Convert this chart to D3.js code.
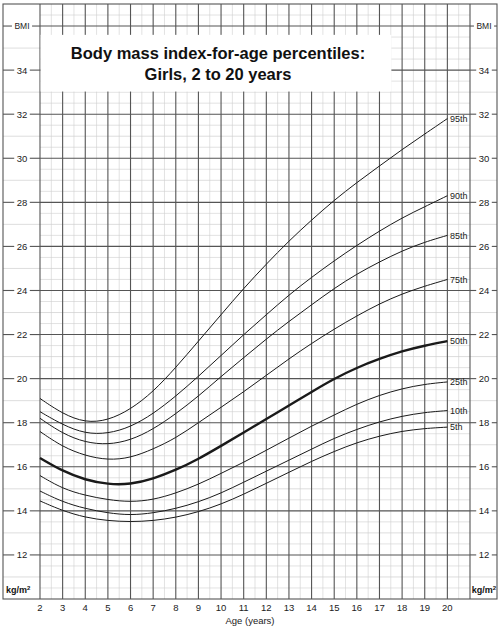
<!DOCTYPE html>
<html>
<head>
<meta charset="utf-8">
<script src="https://cdn.jsdelivr.net/npm/d3@7"></script>
<style>
  body { margin: 0; background: #fff; }
  svg { display: block; font-family: "Liberation Sans", Arial, Helvetica, sans-serif; }
</style>
</head>
<body>
<svg id="chart" width="500" height="628"></svg>
<script>
// ages in years, BMI values
var ages = [2,3,4,5,6,7,8,9,10,11,12,13,14,15,16,17,18,19,20];
var p95 = [19.1,18.4,18.0,18.1,18.6,19.4,20.5,21.7,22.9,24.1,25.2,26.25,27.2,28.1,28.9,29.65,30.4,31.1,31.8];
var p90 = [18.5,17.9,17.5,17.5,17.8,18.4,19.2,20.1,21.05,22.0,22.9,23.8,24.6,25.35,26.05,26.7,27.3,27.8,28.3];
var p85 = [18.2,17.5,17.1,17.0,17.2,17.7,18.4,19.2,20.1,20.95,21.8,22.6,23.35,24.1,24.75,25.3,25.8,26.2,26.5];
var p75 = [17.6,16.9,16.5,16.3,16.4,16.8,17.3,18.0,18.7,19.4,20.15,20.9,21.6,22.25,22.85,23.4,23.85,24.2,24.5];
var p50 = [16.4,15.8,15.4,15.2,15.2,15.45,15.85,16.35,16.95,17.55,18.17,18.78,19.4,20.0,20.5,20.9,21.25,21.5,21.7];
var p25 = [15.6,15.0,14.7,14.5,14.4,14.5,14.8,15.2,15.7,16.2,16.75,17.3,17.85,18.35,18.85,19.25,19.55,19.75,19.85];
var p10 = [14.9,14.4,14.1,13.9,13.8,13.9,14.1,14.4,14.8,15.3,15.8,16.3,16.8,17.3,17.7,18.05,18.3,18.47,18.55];
var p5  = [14.45,14.0,13.7,13.55,13.5,13.55,13.7,13.95,14.3,14.75,15.25,15.75,16.25,16.7,17.1,17.4,17.62,17.74,17.8];

var seriesNames = ["95th","90th","85th","75th","50th","25th","10th","5th"];
var seriesVals = [p95,p90,p85,p75,p50,p25,p10,p5];

var xTicks = d3.range(2, 21);          // 2 .. 20
var yTicks = d3.range(12, 36, 2);      // 12 .. 34
var titleLines = ["Body mass index-for-age percentiles:", "Girls, 2 to 20 years"];

var svg = d3.select('#chart');
var x = d3.scaleLinear().domain([2, 21]).range([40, 470]);
var y = d3.scaleLinear().domain([10, 37]).range([599, 4]);
var L = 3, R = 497;

var minor = "#cfcfcf", major = "#555";

// light half-unit grid inside plot
svg.append('g').selectAll('line')
  .data(d3.range(10.5, 37, 0.5).filter(function(v){ return v % 1 !== 0; }))
  .enter().append('line')
  .attr('x1', x(2)).attr('x2', x(21))
  .attr('y1', y).attr('y2', y)
  .style('stroke', minor).style('stroke-width', 0.6);

// odd unit lines, across margins too
svg.append('g').selectAll('line')
  .data(d3.range(11, 37, 2))
  .enter().append('line')
  .attr('x1', L).attr('x2', R)
  .attr('y1', y).attr('y2', y)
  .style('stroke', minor).style('stroke-width', 0.7);

// half-year verticals
svg.append('g').selectAll('line')
  .data(d3.range(2.5, 21, 1))
  .enter().append('line')
  .attr('x1', x).attr('x2', x)
  .attr('y1', y(37)).attr('y2', y(10))
  .style('stroke', minor).style('stroke-width', 0.6);

// major horizontals (even BMI) in plot
svg.append('g').selectAll('line')
  .data(yTicks.concat([36]))
  .enter().append('line')
  .attr('x1', x(2)).attr('x2', x(21))
  .attr('y1', y).attr('y2', y)
  .style('stroke', major).style('stroke-width', 1.1);

// major verticals
svg.append('g').selectAll('line')
  .data(d3.range(2, 22))
  .enter().append('line')
  .attr('x1', x).attr('x2', x)
  .attr('y1', y(37)).attr('y2', y(10))
  .style('stroke', major).style('stroke-width', 1.1);

// outer frame
svg.append('rect')
  .attr('x', L).attr('y', y(37))
  .attr('width', R - L).attr('height', y(10) - y(37))
  .style('fill', 'none').style('stroke', major).style('stroke-width', 1.1);

// title box
svg.append('rect')
  .attr('x', x(2) + 0.6).attr('y', y(35.6))
  .attr('width', x(17.5) - x(2)).attr('height', y(33) - y(35.6) - 0.6)
  .style('fill', '#fff');

svg.append('g').selectAll('text')
  .data(titleLines)
  .enter().append('text')
  .attr('x', 218)
  .attr('y', function(d, i){ return 59 + i * 21; })
  .attr('text-anchor', 'middle')
  .style('font-size', '16.5px').style('font-weight', 'bold').style('fill', '#111')
  .text(function(d){ return d; });

// side labels with tick dashes
function sideLabel(txt, v, cx, x1, x2, size) {
  var t = svg.append('text')
    .attr('x', cx).attr('y', y(v) + size * 0.36)
    .attr('text-anchor', 'middle')
    .style('font-size', size + 'px').style('fill', '#222')
    .text(txt);
  var w = t.node().getComputedTextLength();
  svg.append('line').attr('x1', x1).attr('x2', cx - w / 2 - 2.5)
    .attr('y1', y(v)).attr('y2', y(v))
    .style('stroke', major).style('stroke-width', 1.1);
  svg.append('line').attr('x1', cx + w / 2 + 2.5).attr('x2', x2)
    .attr('y1', y(v)).attr('y2', y(v))
    .style('stroke', major).style('stroke-width', 1.1);
}
yTicks.forEach(function(v){
  sideLabel(v, v, 22, L, x(2), 9.5);
  sideLabel(v, v, 484, x(21), R, 9.5);
});
sideLabel("BMI", 36, 22, L, x(2), 8.5);
sideLabel("BMI", 36, 484, x(21), R, 8.5);

// kg/m² units
svg.append('text').attr('x', 6).attr('y', 593)
  .style('font-size', '9px').style('font-weight', 'bold').style('fill', '#111')
  .html('kg/m<tspan dy="-3" style="font-size:6px">2</tspan>');
svg.append('text').attr('x', 496).attr('y', 593).attr('text-anchor', 'end')
  .style('font-size', '9px').style('font-weight', 'bold').style('fill', '#111')
  .html('kg/m<tspan dy="-3" style="font-size:6px">2</tspan>');

// x tick labels
svg.append('g').selectAll('text')
  .data(xTicks)
  .enter().append('text')
  .attr('x', x).attr('y', 611)
  .attr('text-anchor', 'middle')
  .style('font-size', '9.5px').style('fill', '#222')
  .text(function(d){ return d; });

svg.append('text').attr('x', 250).attr('y', 624)
  .attr('text-anchor', 'middle')
  .style('font-size', '9.5px').style('fill', '#222')
  .text('Age (years)');

// percentile curves
var line = d3.line()
  .x(function(d){ return x(d[0]); })
  .y(function(d){ return y(d[1]); })
  .curve(d3.curveBasis);

svg.append('g').selectAll('path')
  .data(seriesVals)
  .enter().append('path')
  .attr('d', function(vals){ return line(ages.map(function(a, i){ return [a, vals[i]]; })); })
  .style('fill', 'none').style('stroke', '#1a1a1a')
  .style('stroke-width', function(d, i){ return seriesNames[i] === '50th' ? 2.4 : 1; });

svg.append('g').selectAll('text')
  .data(seriesVals)
  .enter().append('text')
  .attr('x', 450)
  .attr('y', function(vals){ return y(vals[vals.length - 1]) + 3.2; })
  .style('font-size', '9px').style('fill', '#222')
  .text(function(d, i){ return seriesNames[i]; });
</script>
</body>
</html>
